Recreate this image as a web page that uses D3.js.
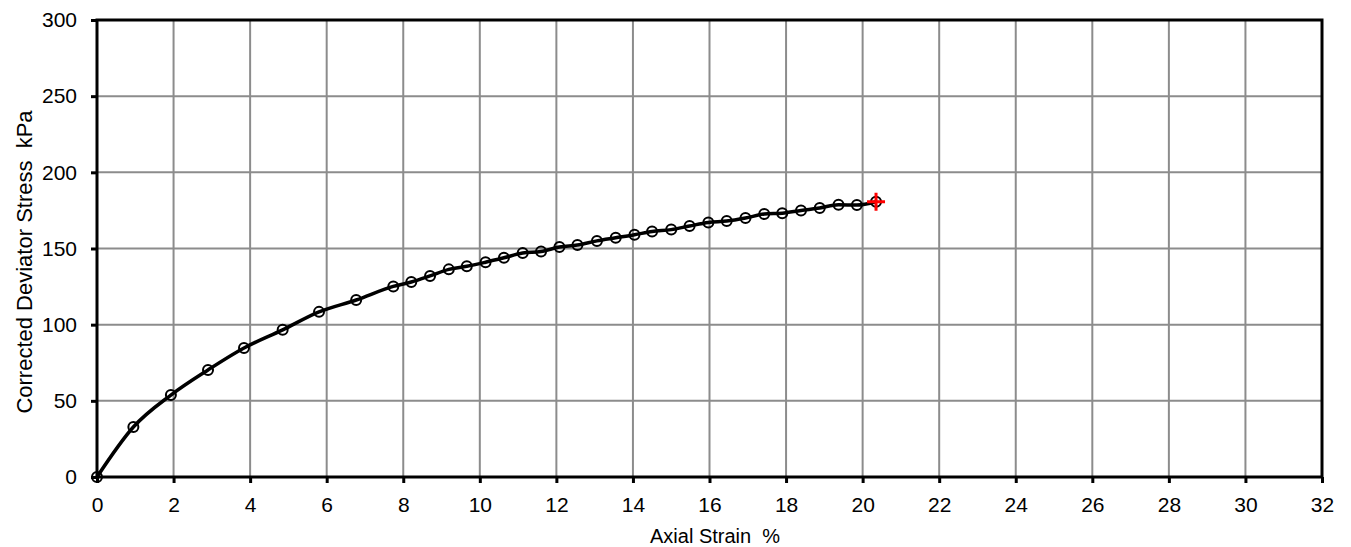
<!DOCTYPE html>
<html lang="en">
<head>
  <meta charset="UTF-8">
  <title>Deviator Stress vs Axial Strain</title>
  <style>
    *{ margin:0; padding:0; }
    html, body{ background:#fff; overflow:hidden; }
    svg{ display:block; }
    .title{ white-space: pre; }
  </style>
  <script src="https://cdn.jsdelivr.net/npm/d3@7/dist/d3.min.js"></script>
</head>
<body>
  <svg id="mainsvg"></svg>
  <script>
    // data
    const strain = [0, 0.95, 1.93, 2.9, 3.84, 4.85, 5.8, 6.77, 7.74, 8.21, 8.7, 9.19, 9.66, 10.15,
      10.63, 11.12, 11.6, 12.08, 12.55, 13.06, 13.55, 14.04, 14.5, 15.0, 15.48, 15.97, 16.45,
      16.94, 17.43, 17.9, 18.39, 18.88, 19.37, 19.85]
    const stress = [0, 32.8, 53.8, 70.3, 84.7, 96.6, 108.4, 116.2, 125.1, 128, 132, 136.3, 138.3, 141,
      143.9, 147, 148, 151, 152.3, 155, 157, 159, 161.2, 162.4, 164.8, 167.1, 168, 170,
      172.6, 173.2, 175, 176.6, 178.7, 178.5]
    const failStrain = [20.35]
    const failStress = [180.7]
    const xTicks = d3.range(0, 33, 2)
    const yTicks = d3.range(0, 301, 50)

    const width = 1351, height = 547
    const margin = { left:97, top:20, right:29, bottom:70 }
    const font = '"Liberation Sans", Arial, sans-serif'
    const svg = d3.select('#mainsvg').attr('width', width).attr('height', height)
    const innerWidth = width - margin.left - margin.right
    const innerHeight = height - margin.top - margin.bottom

    const x = d3.scaleLinear().domain([0, 32]).range([0, innerWidth])
    const y = d3.scaleLinear().domain([0, 300]).range([innerHeight, 0])

    const g = svg.append('g').attr('transform', `translate(${margin.left},${margin.top})`)

    // grid
    g.append('g').selectAll('line').data(xTicks.slice(1, -1)).join('line')
      .attr('x1', d => x(d)).attr('x2', d => x(d))
      .attr('y1', 0).attr('y2', innerHeight)
      .attr('stroke', '#8c8c8c').attr('stroke-width', 2)
    g.append('g').selectAll('line').data(yTicks.slice(1, -1)).join('line')
      .attr('y1', d => y(d)).attr('y2', d => y(d))
      .attr('x1', 0).attr('x2', innerWidth)
      .attr('stroke', '#8c8c8c').attr('stroke-width', 2)

    // axes
    const xAxis = g.append('g').attr('transform', `translate(0,${innerHeight})`)
      .call(d3.axisBottom(x).tickValues(xTicks).tickSize(6).tickPadding(14))
    const yAxis = g.append('g')
      .call(d3.axisLeft(y).tickValues(yTicks).tickSize(6).tickPadding(14))
    ;[xAxis, yAxis].forEach(a => {
      a.attr('font-size', 21).attr('font-family', font)
      a.select('.domain').remove()
      a.selectAll('line').attr('stroke', '#000').attr('stroke-width', 3)
      a.selectAll('text').attr('fill', '#000')
    })

    // frame
    g.append('rect').attr('x', 0).attr('y', 0)
      .attr('width', innerWidth).attr('height', innerHeight)
      .attr('fill', 'none').attr('stroke', '#000').attr('stroke-width', 3)

    // curve
    const pts = strain.map((s, i) => [s, stress[i]])
    pts.push([failStrain[0], failStress[0]])
    const line = d3.line().x(d => x(d[0])).y(d => y(d[1])).curve(d3.curveMonotoneX)
    g.append('path').datum(pts)
      .attr('fill', 'none').attr('stroke', '#000').attr('stroke-width', 3.5)
      .attr('d', line)

    g.append('g').selectAll('circle').data(pts).join('circle')
      .attr('cx', d => x(d[0])).attr('cy', d => y(d[1])).attr('r', 5)
      .attr('fill', 'none').attr('stroke', '#000').attr('stroke-width', 2)

    // failure marker
    const fx = x(failStrain[0]), fy = y(failStress[0])
    g.append('path')
      .attr('d', `M${fx - 9},${fy} H${fx + 9} M${fx},${fy - 9} V${fy + 9}`)
      .attr('stroke', '#ff0000').attr('stroke-width', 3).attr('fill', 'none')

    // titles
    svg.append('text').attr('class', 'title').attr('x', 715).attr('y', 543)
      .attr('text-anchor', 'middle').attr('font-size', 20).attr('font-family', font)
      .text('Axial Strain  %')
    svg.append('text').attr('class', 'title')
      .attr('transform', `translate(32,262) rotate(-90)`)
      .attr('text-anchor', 'middle').attr('font-size', 22).attr('font-family', font)
      .text('Corrected Deviator Stress  kPa')
  </script>
</body>
</html>
